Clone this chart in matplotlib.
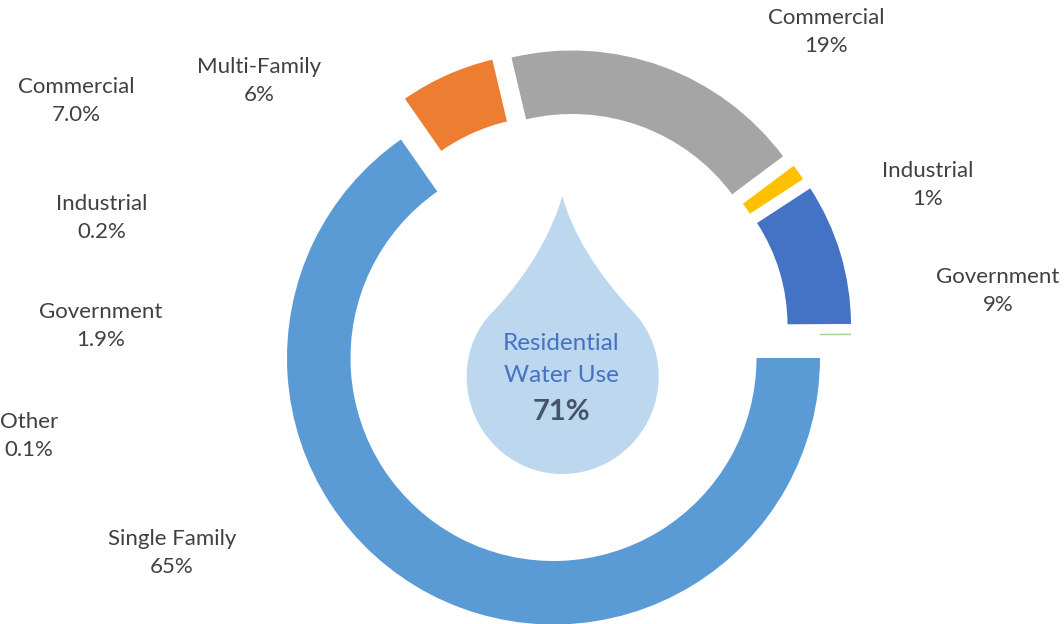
import matplotlib
matplotlib.use('Agg')
import matplotlib.pyplot as plt
from matplotlib.path import Path
from matplotlib.patches import PathPatch

# water use shares, clockwise from 3 o'clock
segments = ['Single Family', 'Multi-Family', 'Commercial', 'Industrial', 'Government', 'Other']
shares = [65.3, 6.0, 18.5, 1.0, 9.1, 0.1]
share_labels = ['65%', '6%', '19%', '1%', '9%', '']

# breakdown listed on the left, text only
side_names = ['Commercial', 'Industrial', 'Government', 'Other']
side_labels = ['7.0%', '0.2%', '1.9%', '0.1%']

center_lines = ['Residential', 'Water Use']
center_total = '71%'

colors = ['#5B9BD5', '#ED7D31', '#A5A5A5', '#FFC000', '#4472C4', '#A9D18E']

W, H = 1064, 624

def py(y):
    # picture rows run downwards
    return H - y

plt.rcParams['font.family'] = ['Lato', 'DejaVu Sans']

fig = plt.figure(figsize=(W / 100, H / 100), dpi=100)
ax = fig.add_axes([0, 0, 1, 1])

wedges, _ = ax.pie(shares, startangle=0, counterclock=False, colors=colors,
                   center=(553.5, py(358)), radius=266.5,
                   wedgeprops=dict(width=64, linewidth=0), frame=False)

# each slice has its own pulled out centre and radius in the original
# x, y, outer radius, ring width
slice_geom = [(553.5, py(358), 266.5, 63.5),
              (551.2, py(308.3), 255.5, 63.5),
              (572.1, py(313.7), 263.2, 63.5),
              (587, py(320), 258, 63.5),
              (600, py(325.5), 251, 63.5),
              (600, py(335.2), 251, 31)]
for w, (x, y, r, rw) in zip(wedges, slice_geom):
    w.set_center((x, y))
    w.set_radius(r)
    w.set_width(rw)

ax.set_xlim(0, W)
ax.set_ylim(0, H)
ax.set_aspect('equal')
ax.axis('off')

# drop shape
verts = [(562.3, 196),
         (572, 232), (596, 272), (633, 311.7),
         (648, 327), (658.7, 350), (658.7, 376.7),
         (658.7, 430), (615.5, 474), (562.3, 474),
         (509, 474), (466.7, 430), (466.7, 376.7),
         (466.7, 350), (477, 327), (493, 311.7),
         (530, 272), (552, 232), (562.3, 196)]
codes = [Path.MOVETO] + [Path.CURVE4] * (len(verts) - 1)
drop = Path([(x, py(y)) for x, y in verts], codes)
ax.add_patch(PathPatch(drop, facecolor='#BDD7EE', edgecolor='none'))

text_color = '#404040'
fs = 16

def label(x, y, name, val):
    ax.text(x, py(y), name + '\n' + val, ha='center', va='center', fontsize=fs,
            color=text_color, linespacing=1.46)

main_pos = [(172, 553), (259, 81), (826, 32), (928, 185), (998, 291)]
for pos, name, val in zip(main_pos, segments, share_labels):
    label(pos[0], pos[1], name, val)

side_pos = [(76, 101), (102, 218), (101, 326), (29, 436)]
for pos, name, val in zip(side_pos, side_names, side_labels):
    label(pos[0], pos[1], name, val)

ax.text(561, py(344), center_lines[0], ha='center', va='center', fontsize=17.5, color='#4472C4')
ax.text(561, py(375), center_lines[1], ha='center', va='center', fontsize=17.5, color='#4472C4')
ax.text(561, py(412), center_total, ha='center', va='center', fontsize=21, fontweight='bold', color='#44546A')

fig.savefig('out.png', dpi=100)
